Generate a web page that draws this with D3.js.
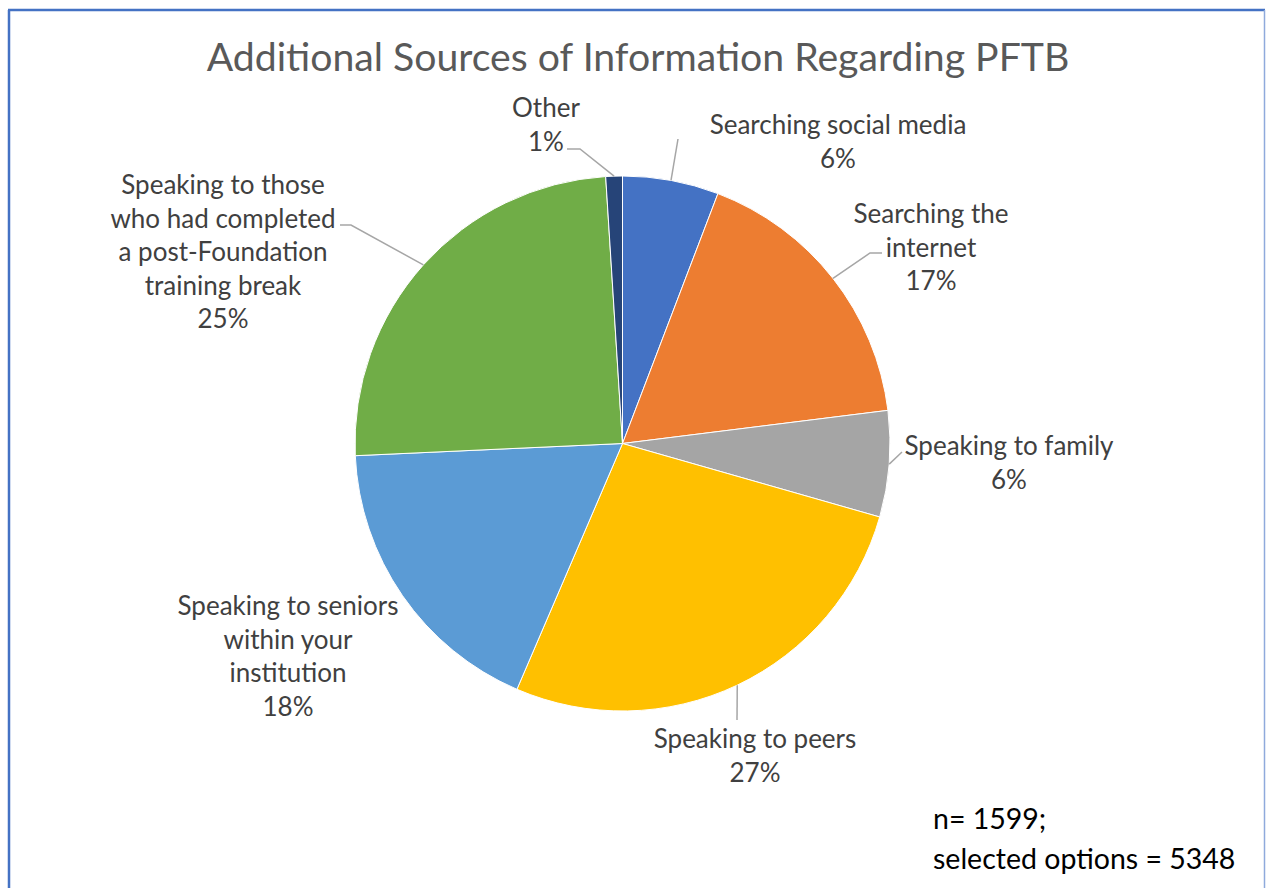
<!DOCTYPE html>
<html>
<head>
<meta charset="utf-8">
<script src="https://cdn.jsdelivr.net/npm/d3@7"></script>
<style>
  html, body { margin: 0; padding: 0; background: #fff; }
  svg { display: block; }
  text { font-family: Lato, "Open Sans", sans-serif; }
</style>
</head>
<body>
<svg id="chart" width="1266" height="888"></svg>
<script>
// Share of selected options (percent), clockwise from 12 o'clock
const categories = [
  "Searching social media",
  "Searching the internet",
  "Speaking to family",
  "Speaking to peers",
  "Speaking to seniors within your institution",
  "Speaking to those who had completed a post-Foundation training break",
  "Other"
];
const values = [5.8, 17.2, 6.4, 27.0, 17.8, 24.7, 1.0];
const colors = ["#4472C4", "#ED7D31", "#A5A5A5", "#FFC000", "#5B9BD5", "#70AD47", "#264478"];

// How each category label is wrapped onto lines
const labelLines = [
  ["Searching social media"],
  ["Searching the", "internet"],
  ["Speaking to family"],
  ["Speaking to peers"],
  ["Speaking to seniors", "within your", "institution"],
  ["Speaking to those", "who had completed", "a post-Foundation", "training break"],
  ["Other"]
];

const title = "Additional Sources of Information Regarding PFTB";
const noteLines = ["n= 1599;", "selected options = 5348"];

// Label placement: centre x and first baseline; leader path start/elbow (null = no leader)
const labelLayout = [
  { x: 838, y: 134, leader: [[678, 139]] },
  { x: 931, y: 223, leader: [[882, 253], [870, 253]] },
  { x: 1009, y: 455, leader: [[902, 452]] },
  { x: 755, y: 748, leader: [[737, 720]] },
  { x: 288, y: 615, leader: null },
  { x: 223, y: 194, leader: [[340, 225], [351, 225]] },
  { x: 546, y: 117, leader: [[567, 149], [580, 149]] }
];

const W = 1266, H = 888;
const cx = 622.5, cy = 443.5, R = 267.5;
const lineH = 33.6;

const svg = d3.select("#chart");

// Frame
const frame = svg.append("g");
frame.append("line").attr("x1", 9).attr("y1", 10).attr("x2", 9).attr("y2", H)
  .attr("stroke", "#4472C4").attr("stroke-width", 2.5);
frame.append("line").attr("x1", 8).attr("y1", 10).attr("x2", 1265).attr("y2", 10)
  .attr("stroke", "#4472C4").attr("stroke-width", 2.5);
frame.append("line").attr("x1", 1264.5).attr("y1", 10).attr("x2", 1264.5).attr("y2", H)
  .attr("stroke", "#8FAADC").attr("stroke-width", 1.5);

// Title
svg.append("text")
  .attr("x", 638).attr("y", 71)
  .attr("text-anchor", "middle")
  .attr("font-size", 39.2)
  .attr("fill", "#595959")
  .text(title);

const total = d3.sum(values);
const pie = d3.pie().sort(null).value(d => d)(values);
const arc = d3.arc().innerRadius(0).outerRadius(R);

const g = svg.append("g").attr("transform", `translate(${cx},${cy})`);

g.selectAll("path.slice")
  .data(pie)
  .join("path")
  .attr("class", "slice")
  .attr("d", arc)
  .attr("fill", (d, i) => colors[i])
  .attr("stroke", "#ffffff")
  .attr("stroke-width", 1);

// Leader lines: from the label to the outer edge at each slice's mid-angle
const edgePoint = d => {
  const a = (d.startAngle + d.endAngle) / 2;
  return [cx + R * Math.sin(a), cy - R * Math.cos(a)];
};
const lineGen = d3.line();
svg.append("g").selectAll("path")
  .data(pie.filter((d, i) => labelLayout[i].leader))
  .join("path")
  .attr("d", d => lineGen([...labelLayout[d.index].leader, edgePoint(d)]))
  .attr("fill", "none")
  .attr("stroke", "#A6A6A6")
  .attr("stroke-width", 1.5);

// Category labels with percentages
const fmtPct = v => Math.round(v / total * 100) + "%";
const labels = svg.append("g").selectAll("text")
  .data(pie)
  .join("text")
  .attr("text-anchor", "middle")
  .attr("font-size", 26)
  .attr("fill", "#404040");
labels.each(function(d, i) {
  const t = d3.select(this);
  const lines = [...labelLines[i], fmtPct(d.value)];
  lines.forEach((s, k) => {
    t.append("tspan")
      .attr("x", labelLayout[i].x)
      .attr("y", labelLayout[i].y + k * lineH)
      .text(s);
  });
});

// Sample-size note
svg.append("text")
  .attr("font-size", 28.5)
  .attr("fill", "#000000")
  .selectAll("tspan")
  .data(noteLines)
  .join("tspan")
  .attr("x", 933)
  .attr("y", (d, i) => 829 + i * 40)
  .text(d => d);
</script>
</body>
</html>
